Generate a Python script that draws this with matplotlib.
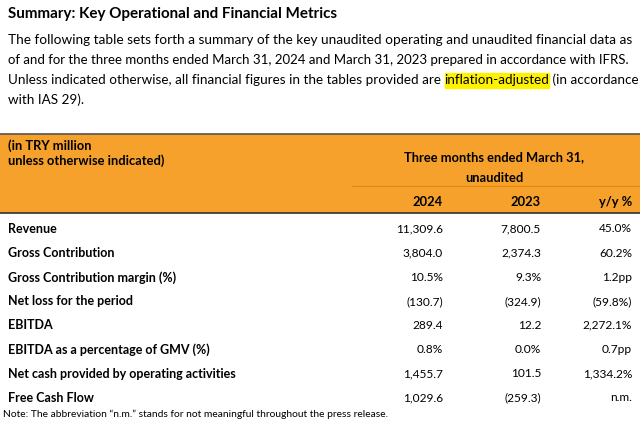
import matplotlib.pyplot as plt
from matplotlib.patches import Rectangle

plt.rcParams['font.family'] = ['Lato', 'DejaVu Sans']

title = "Summary: Key Operational and Financial Metrics"
intro_lines = [
    "The following table sets forth a summary of the key unaudited operating and unaudited financial data as",
    "of and for the three months ended March 31, 2024 and March 31, 2023 prepared in accordance with IFRS.",
]
line3_pre = "Unless indicated otherwise, all financial figures in the tables provided are "
line3_hl = "inflation-adjusted"
line3_post = " (in accordance"
line4 = "with IAS 29)."

metrics = ["Revenue", "Gross Contribution", "Gross Contribution margin (%)",
           "Net loss for the period", "EBITDA", "EBITDA as a percentage of GMV (%)",
           "Net cash provided by operating activities", "Free Cash Flow"]
q1_2024 = ["11,309.6", "3,804.0", "10.5%", "(130.7)", "289.4", "0.8%", "1,455.7", "1,029.6"]
q1_2023 = ["7,800.5", "2,374.3", "9.3%", "(324.9)", "12.2", "0.0%", "101.5", "(259.3)"]
yoy = ["45.0%", "60.2%", "1.2pp", "(59.8%)", "2,272.1%", "0.7pp", "1,334.2%", "n.m."]
year_labels = ["2024", "2023", "y/y %"]
note = "Note: The abbreviation \u201cn.m.\u201d stands for not meaningful throughout the press release."

W, H = 640, 424
fig = plt.figure(figsize=(W / 100, H / 100), dpi=100)
ax = fig.add_axes([0, 0, 1, 1])
ax.set_xlim(0, W)
ax.set_ylim(H, 0)
ax.axis('off')
r = fig.canvas.get_renderer()

orange = '#F5A12B'


def fit_size(s, target):
    # font size at which string s spans target pixels
    p = ax.text(0, 0, s, fontsize=10)
    w = p.get_window_extent(r).width
    p.remove()
    return 10 * target / w


ax.text(8, 14, title, fontsize=10.9, fontweight='bold', va='center', ha='left')
for i, (ln, tw) in enumerate(zip(intro_lines, [622, 624])):
    ax.text(8, 40 + 20 * i, ln, fontsize=fit_size(ln, tw), va='center', ha='left')

fs3 = fit_size(line3_pre + line3_hl + line3_post, 626)
t = ax.text(8, 80, line3_pre, fontsize=fs3, va='center', ha='left')
x_hl = t.get_window_extent(r).x1
th = ax.text(x_hl, H - 80, line3_hl, fontsize=fs3, va='center', ha='left',
             transform=None, zorder=2)
bh = th.get_window_extent(r)
ax.add_patch(Rectangle((bh.x0, 73), bh.x1 - bh.x0, 15, color='#FFF200', zorder=0))
ax.text(bh.x1, H - 80, line3_post, fontsize=fs3, va='center', ha='left', transform=None)
ax.text(8, 100, line4, fontsize=fs3, va='center', ha='left')

# header block
ax.add_patch(Rectangle((0, 134), W, 78, color=orange, zorder=0))
ax.plot([0, W], [134, 134], color='#555555', lw=1.2)
ax.plot([0, W], [212.5, 212.5], color='#333333', lw=1.2)
ax.plot([352, W], [186, 186], color='#E08A10', lw=0.8)

hdr_fs = 9.3
ax.text(8, 146, "(in TRY million", fontsize=hdr_fs, fontweight='bold', va='center')
ax.text(8, 161, "unless otherwise indicated)", fontsize=hdr_fs, fontweight='bold', va='center')
ax.text(494, 157, "Three months ended March 31,", fontsize=hdr_fs, fontweight='bold',
        va='center', ha='center')
ax.text(494, 178, "unaudited", fontsize=hdr_fs, fontweight='bold', va='center', ha='center')

col_x = [443, 541, 632]
for x, lab in zip(col_x, year_labels):
    ax.text(x, 202, lab, fontsize=hdr_fs, fontweight='bold', va='center', ha='right')

row_fs = 9.0
for i, m in enumerate(metrics):
    y = 229 + 24.1 * i
    ax.text(8, y, m, fontsize=row_fs, fontweight='bold', va='center', ha='left')
    for x, v in zip(col_x, (q1_2024[i], q1_2023[i], yoy[i])):
        ax.text(x, y, v, fontsize=row_fs * 0.95, va='center', ha='right')

ax.text(3, 414, note, fontsize=7.4, va='center', ha='left')

fig.savefig('out.png', dpi=100)
